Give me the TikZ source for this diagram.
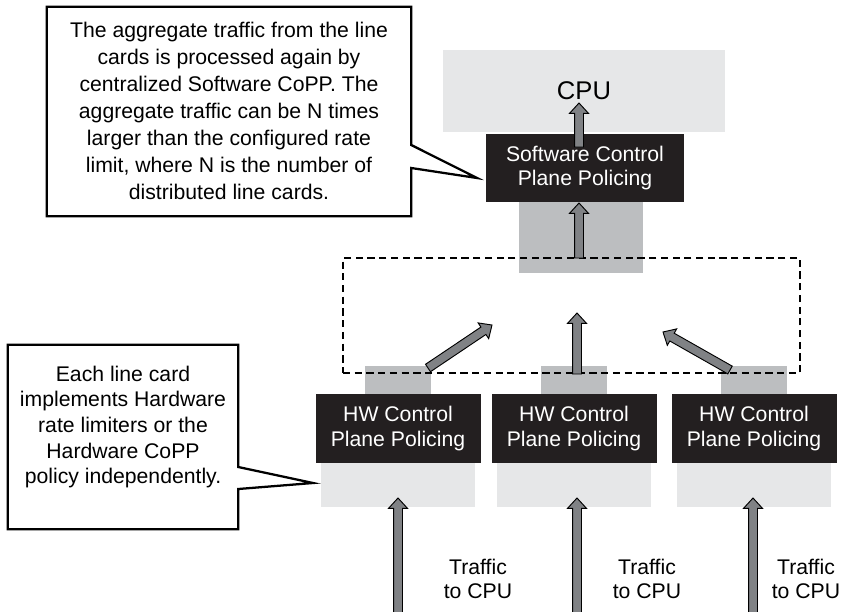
\documentclass[tikz,border=0pt]{standalone}
\usepackage{fontspec}
\setmainfont{Liberation Sans}
\usetikzlibrary{calc,shapes.arrows}

\definecolor{lightgray}{HTML}{E6E7E8}
\definecolor{midgray}{HTML}{BCBEC0}
\definecolor{boxblack}{HTML}{231F20}
\definecolor{arrowgray}{HTML}{808285}

\newcommand{\textsz}{\fontsize{15.9}{18.5}\selectfont}

\tikzset{
    lightbox/.style={fill=lightgray, inner sep=0pt},
    midbox/.style={fill=midgray, inner sep=0pt},
    blackbox/.style={fill=boxblack, text=white, inner sep=0pt, align=center, font=\textsz},
    notetext/.style={inner sep=0pt, align=center},
    noteframe/.style={draw=black, line width=1.7pt, fill=white, line join=miter},
    dashbox/.style={draw=black, line width=2pt, dash pattern=on 5.4pt off 3.4pt, inner sep=0pt},
    fatarrow/.style={single arrow, draw=black, line width=0.7pt, fill=arrowgray,
        inner xsep=0pt, inner ysep=3pt, outer sep=0pt, minimum width=0pt,
        single arrow head extend=3.75pt, single arrow tip angle=85}
}

% thick grey arrow from one point to another
\newcommand{\fatarrow}[2]{%
    \path let \p1=(#1), \p2=(#2),
        \n1={atan2(\y2-\y1,\x2-\x1)},
        \n2={veclen(\x2-\x1,\y2-\y1)} in
        node[fatarrow, minimum height=\n2, rotate=\n1, anchor=tail] at (\p1) {};
}

\begin{document}
\begin{tikzpicture}[x=0.75pt, y=-0.75pt]

    \def\u{0.75pt}
    \useasboundingbox (0,0) rectangle (842,611);

    % central CPU
    \node[lightbox, minimum width=282*\u, minimum height=82*\u,
        font=\fontsize{19.2}{22}\selectfont] (cpu) at (584,91) {CPU};
    \node[blackbox, minimum width=198*\u, minimum height=68*\u] (swcopp)
        at (585,168) {Software Control\\Plane Policing};
    \node[midbox, minimum width=124*\u, minimum height=71*\u] (swin) at (581,237.5) {};

    % line cards
    \foreach \i/\x in {1/398, 2/574, 3/754}{
        \node[midbox, minimum width=66*\u, minimum height=28*\u] (hwout\i) at (\x,380) {};
        \node[blackbox, minimum width=165*\u, minimum height=69*\u] (hw\i)
            at (\x,428.5) {HW Control\\Plane Policing};
        \node[lightbox, minimum width=154*\u, minimum height=44*\u] (hwin\i) at (\x,485) {};
    }

    % aggregation
    \node[dashbox, minimum width=457*\u, minimum height=115*\u] (agg) at (571.5,315.5) {};

    % callouts
    \coordinate (swtip) at (477,178);
    \node[minimum width=364*\u, minimum height=209*\u, inner sep=0pt] (swframe) at (229,111.5) {};
    \draw[noteframe] (swframe.north west) -- (swframe.north east)
        -- (swframe.east |- 0,145) -- (swtip) -- (swframe.east |- 0,168)
        -- (swframe.south east) -- (swframe.south west) -- cycle;
    \node[notetext, font=\fontsize{15.9}{20.3}\selectfont] (swnote) at (229,111) {%
        The aggregate traffic from the line\\
        cards is processed again by\\
        centralized Software CoPP. The\\
        aggregate traffic can be N times\\
        larger than the configured rate\\
        limit, where N is the number of\\
        distributed line cards.};

    \coordinate (hwtip) at (313,483);
    \node[minimum width=230*\u, minimum height=184*\u, inner sep=0pt] (hwframe) at (123,437) {};
    \draw[noteframe] (hwframe.north west) -- (hwframe.north east)
        -- (hwframe.east |- 0,467) -- (hwtip) -- (hwframe.east |- 0,489)
        -- (hwframe.south east) -- (hwframe.south west) -- cycle;
    \node[notetext, font=\fontsize{15.9}{19.3}\selectfont] (hwnote) at (123,427) {%
        Each line card\\
        implements Hardware\\
        rate limiters or the\\
        Hardware CoPP\\
        policy independently.};

    % traffic labels
    \foreach \i/\x in {1/478, 2/647, 3/806}{
        \node[notetext, font=\textsz] (traffic\i) at (\x,579) {Traffic\\to CPU};
    }

    % arrows
    \coordinate (cpuin) at (579,103);
    \coordinate (swsrc) at (579,147);
    \coordinate (aggtop) at (579,258);
    \coordinate (swdst) at (579,203);
    \fatarrow{swsrc}{cpuin}
    \fatarrow{aggtop}{swdst}

    \coordinate (out1) at (428,368);
    \coordinate (up1) at (492,325);
    \coordinate (out2) at (577,374);
    \coordinate (up2) at (577,313);
    \coordinate (out3) at (730,370);
    \coordinate (up3) at (663,332);
    \foreach \i in {1,2,3}{
        \fatarrow{out\i}{up\i}
    }

    \coordinate (feed1) at (398,616);
    \coordinate (in1) at (398,498);
    \coordinate (feed2) at (577,616);
    \coordinate (in2) at (577,498);
    \coordinate (feed3) at (753,616);
    \coordinate (in3) at (753,498);
    \foreach \i in {1,2,3}{
        \fatarrow{feed\i}{in\i}
    }

\end{tikzpicture}
\end{document}
